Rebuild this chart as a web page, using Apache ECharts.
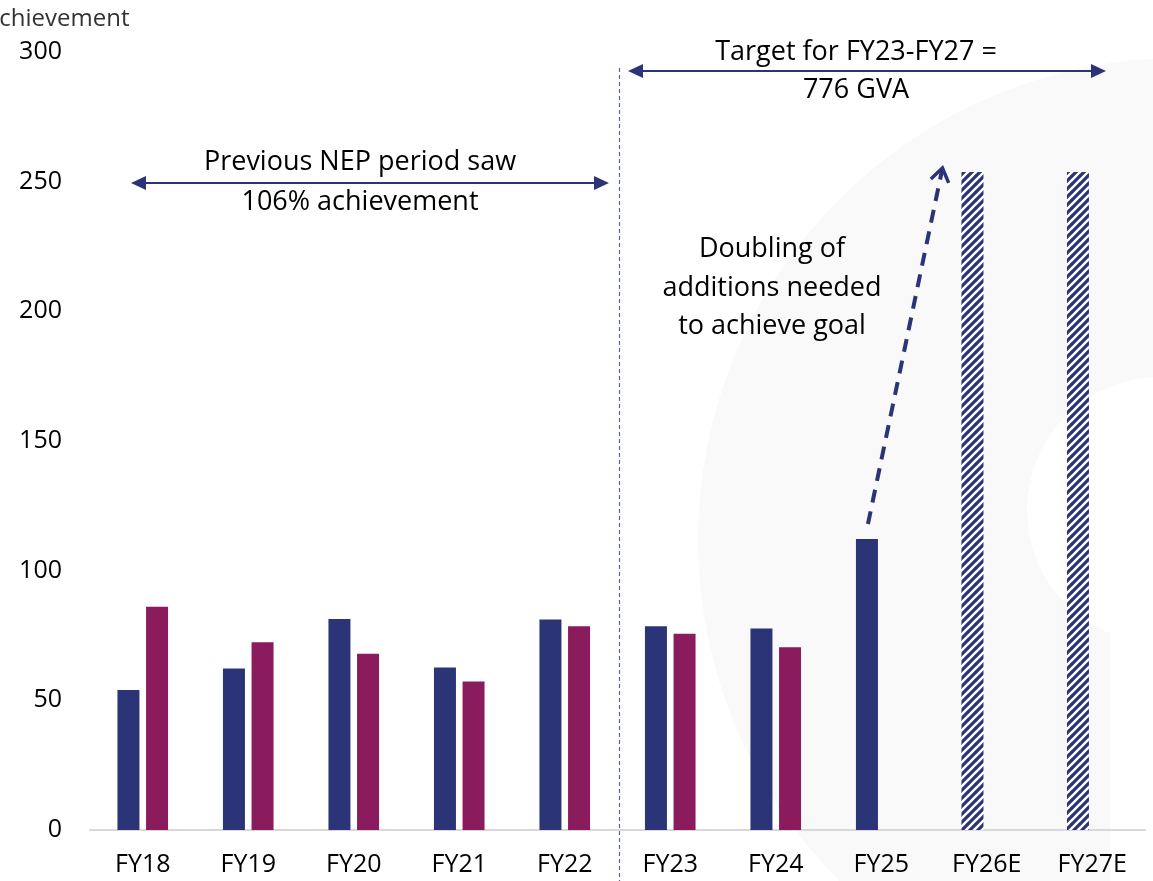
<!DOCTYPE html>
<html>
<head>
<meta charset="utf-8">
<script src="https://cdn.jsdelivr.net/npm/echarts@6/dist/echarts.min.js"></script>
<style>
  html, body { margin: 0; padding: 0; background: #ffffff; }
  #chart { width: 1153px; height: 881px; }
</style>
</head>
<body>
<div id="chart"></div>
<script>
// Fiscal years on the category axis
const categories = ['FY18', 'FY19', 'FY20', 'FY21', 'FY22', 'FY23', 'FY24', 'FY25', 'FY26E', 'FY27E'];
// Navy bars (first bar of each pair)
const navyValues = [54.0, 62.3, 81.4, 62.7, 81.2, 78.6, 77.7, 112.2, null, null];
// Plum bars (second bar of each pair)
const plumValues = [86.1, 72.4, 68.0, 57.3, 78.6, 75.7, 70.5, null, null, null];
// Hatched estimates still required to reach the FY23-FY27 goal
const estimateValues = [null, null, null, null, null, null, null, null, 253.7, 253.7];
// Value axis
const yMin = 0, yMax = 300, yStep = 50;

const NAVY = '#2a3477';
const PLUM = '#8a1b5c';
const FONT = '"Open Sans", "Noto Sans", sans-serif';
const NOTE_SIZE = 27;

// Diagonal stripe tile for the estimate bars
function stripeTile() {
  const c = document.createElement('canvas');
  c.width = 8; c.height = 8;
  const g = c.getContext('2d');
  g.fillStyle = '#ffffff';
  g.fillRect(0, 0, 8, 8);
  g.strokeStyle = NAVY;
  g.lineWidth = 3.2;
  g.beginPath();
  g.moveTo(-1, 9); g.lineTo(9, -1);
  g.moveTo(-1, 1); g.lineTo(1, -1);
  g.moveTo(7, 9); g.lineTo(9, 7);
  g.stroke();
  return c;
}
const stripes = { image: stripeTile(), repeat: 'repeat' };

const navyData = categories.map((c, i) => {
  if (estimateValues[i] != null) {
    return { value: estimateValues[i], itemStyle: { color: stripes } };
  }
  return navyValues[i] == null ? '-' : navyValues[i];
});
const plumData = plumValues.map(v => (v == null ? '-' : v));

const chart = echarts.init(document.getElementById('chart'), null, { renderer: 'canvas' });

chart.setOption({
  backgroundColor: '#ffffff',
  animation: false,
  grid: { left: 90, right: 8, top: 52, bottom: 51, containLabel: false },
  xAxis: {
    type: 'category',
    data: categories,
    axisLine: { lineStyle: { color: '#d9d9d9', width: 2 } },
    axisTick: { show: false },
    axisLabel: { color: '#000', fontFamily: FONT, fontSize: 25, margin: 22 }
  },
  yAxis: {
    type: 'value',
    min: yMin, max: yMax, interval: yStep,
    axisLine: { show: false },
    axisTick: { show: false },
    splitLine: { show: false },
    axisLabel: { color: '#000', fontFamily: FONT, fontSize: 25, margin: 28 }
  },
  series: [
    {
      type: 'bar', data: navyData, barWidth: 22, barGap: '30%',
      itemStyle: { color: NAVY }, z: 3
    },
    {
      type: 'bar', data: plumData, barWidth: 22, barGap: '30%',
      itemStyle: { color: PLUM }, z: 3
    }
  ]
});

// Annotation layer, anchored on the chart's own scales
const px = (i, v) => chart.convertToPixel({ gridIndex: 0 }, [i, v]);
const navyShift = -(22 * 1.3) / 2;           // centre of the first bar in a pair
const divX = (px(4, 0)[0] + px(5, 0)[0]) / 2; // boundary between FY22 and FY23

function doubleArrow(x1, x2, y) {
  const h = 15, w = 7;
  return [
    { type: 'line', shape: { x1: x1 + h - 2, y1: y, x2: x2 - h + 2, y2: y },
      style: { stroke: NAVY, lineWidth: 2 }, z: 100 },
    { type: 'polygon', shape: { points: [[x1, y], [x1 + h, y - w], [x1 + h, y + w]] },
      style: { fill: NAVY }, z: 100 },
    { type: 'polygon', shape: { points: [[x2, y], [x2 - h, y - w], [x2 - h, y + w]] },
      style: { fill: NAVY }, z: 100 }
  ];
}

function label(text, x, y) {
  return {
    type: 'text', z: 100,
    style: { text: text, x: x, y: y, textAlign: 'center', textVerticalAlign: 'middle',
             font: NOTE_SIZE + 'px ' + FONT, fill: '#000' }
  };
}

// Dashed growth arrow from the FY25 bar toward the FY26E estimate
const fromPt = px(7, navyValues[7]);
const toPt = px(8, estimateValues[8]);
const ax0 = fromPt[0] + navyShift + 1, ay0 = fromPt[1] - 15;
const ax1 = toPt[0] + navyShift - 11 - 19, ay1 = toPt[1] - 4;
const ang = Math.atan2(ay1 - ay0, ax1 - ax0);
const arm = 16, spread = Math.PI / 5.2;
const headL = [ax1 - arm * Math.cos(ang - spread), ay1 - arm * Math.sin(ang - spread)];
const headR = [ax1 - arm * Math.cos(ang + spread), ay1 - arm * Math.sin(ang + spread)];

const leftArrowY = px(0, 249.5)[1];
const topArrowY = px(0, 292.7)[1];

const graphics = [
  // faint watermark shape in the background
  { type: 'circle', shape: { cx: 1180, cy: 540, r: 482 }, style: { fill: '#f9f9f9' }, z: -10, silent: true },
  { type: 'circle', shape: { cx: 1160, cy: 510, r: 133 }, style: { fill: '#ffffff' }, z: -9, silent: true },
  { type: 'rect', shape: { x: 1110, y: 600, width: 60, height: 300 }, style: { fill: '#ffffff' }, z: -9, silent: true },

  // truncated axis title at the top-left corner
  { type: 'text', z: 100,
    style: { text: 'achievement', x: -14, y: 19, textAlign: 'left', textVerticalAlign: 'middle',
             font: '24px ' + FONT, fill: '#333333' } },

  // period divider
  { type: 'line', shape: { x1: divX + 2, y1: 68, x2: divX + 2, y2: 881 },
    style: { stroke: '#5b64a3', lineWidth: 1.2, lineDash: [4, 3] }, z: 100 },

  ...doubleArrow(131, 609, leftArrowY),
  label('Previous NEP period saw', 360, leftArrowY - 21),
  label('106% achievement', 360, leftArrowY + 19),

  ...doubleArrow(628, 1106, topArrowY),
  label('Target for FY23-FY27 =', 856, topArrowY - 19),
  label('776 GVA', 856, topArrowY + 19),

  label('Doubling of', 772, 249),
  label('additions needed', 772, 288),
  label('to achieve goal', 772, 326),

  { type: 'line', shape: { x1: ax0, y1: ay0, x2: ax1, y2: ay1 },
    style: { stroke: NAVY, lineWidth: 4, lineDash: [13, 9] }, z: 100 },
  { type: 'polyline', shape: { points: [headL, [ax1, ay1], headR] },
    style: { stroke: NAVY, lineWidth: 3.5, fill: null, lineJoin: 'miter' }, z: 100 }
];

chart.setOption({ graphic: { elements: graphics } });
</script>
</body>
</html>
